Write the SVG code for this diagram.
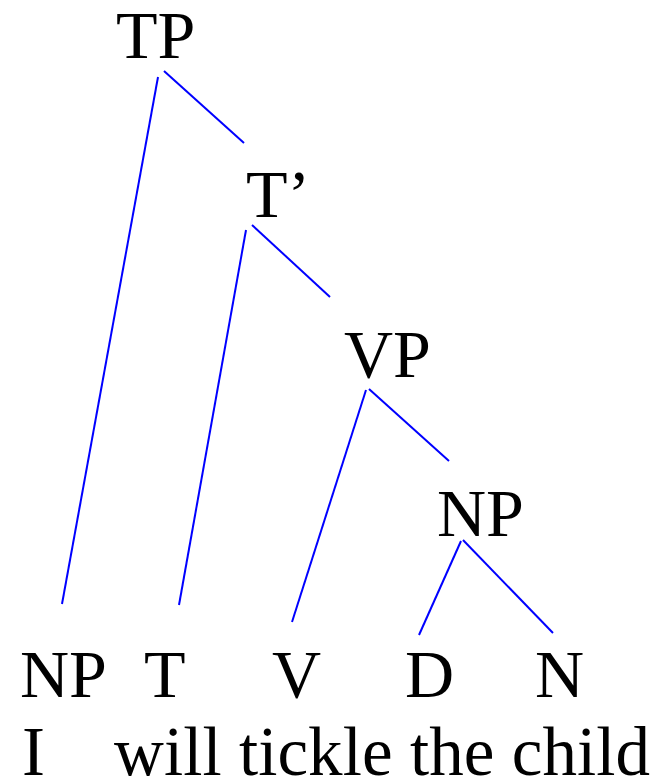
<svg xmlns="http://www.w3.org/2000/svg" width="656" height="779" viewBox="0 0 656 779">
<style>
text{font-family:"Liberation Serif","Times New Roman",serif;font-size:68px;fill:#000}
.w{font-size:69px}
.e line{stroke:#0000ff;stroke-width:2;fill:none}
</style>
<rect width="656" height="779" fill="#fff"/>
<g id="connectors" class="e">
<line x1="158" y1="77" x2="62" y2="604"/>
<line x1="164" y1="71" x2="244" y2="143"/>
<line x1="246" y1="230" x2="179" y2="605"/>
<line x1="252" y1="225" x2="330" y2="297"/>
<line x1="366" y1="390" x2="292" y2="622"/>
<line x1="369" y1="389" x2="449" y2="461"/>
<line x1="461" y1="541" x2="419" y2="635"/>
<line x1="463" y1="540" x2="553" y2="633"/>
</g>
<g id="TP"><text x="116" y="58">TP</text></g>
<g id="Tbar"><text x="246" y="217">T’</text></g>
<g id="VP"><text x="344" y="377">VP</text></g>
<g id="NP2"><text x="437" y="536">NP</text></g>
<g id="NP1"><text x="20" y="697">NP</text></g>
<g id="T"><text x="144" y="697">T</text></g>
<g id="V"><text x="272" y="697">V</text></g>
<g id="D"><text x="405" y="697">D</text></g>
<g id="N"><text x="535" y="697">N</text></g>
<g id="words">
<text class="w" x="22" y="775">I</text>
<text class="w" x="114" y="775" textLength="536">will tickle the child</text>
</g>
</svg>
